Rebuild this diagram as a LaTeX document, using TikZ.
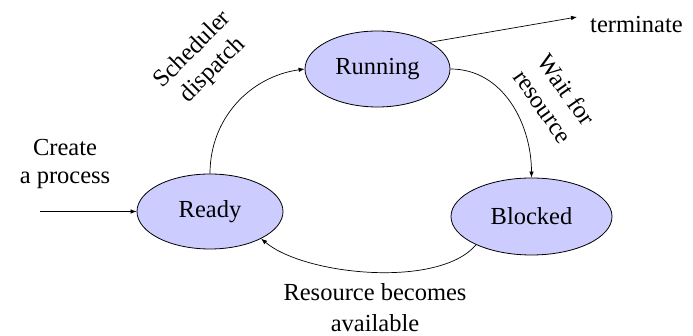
\documentclass[tikz,border=0pt]{standalone}
\usepackage{fontspec}
\setmainfont{Liberation Serif}
\usetikzlibrary{shapes.geometric,arrows.meta}
\definecolor{statefill}{HTML}{CCCCFF}
\tikzset{
  state/.style={ellipse, draw=black, line width=0.8pt, fill=statefill, inner sep=0pt},
  edge/.style={line width=0.7pt, -{Latex[length=6pt,width=4.5pt]}},
  lbl/.style={align=center, inner sep=0pt},
}
\begin{document}
\begin{tikzpicture}[x=1pt,y=1pt,font=\fontsize{24.5}{28.5}\selectfont]
\useasboundingbox (0,0) rectangle (693,336);

% process states
\node[state, minimum width=145pt, minimum height=76pt] (run) at (377.5,267) {Running};
\node[state, minimum width=146pt, minimum height=75pt] (ready) at (210,124.5) {Ready};
\node[state, minimum width=161pt, minimum height=77pt] (blk) at (531.5,119.5) {Blocked};

% free ends of the entry and exit arrows
\coordinate (cstart) at (40,124.5);
\coordinate (tend) at (577,319);
\node[lbl, anchor=west] (term) at (590,311) {terminate};

% transitions
\draw[edge] (cstart) -- (ready.west);
\draw[edge] (ready.north) to[out=90,in=188] (run.west);
\draw[edge] (run.east) to[out=0,in=90] (blk.north);
\draw[edge] (blk.207) to[out=230,in=-40,looseness=0.68] (ready.-28);
\draw[edge] (run.27) -- (tend);

% transition labels
\node[lbl] (lcreate) at (65,172) {Create\\a process};
\node[lbl, rotate=45] (lsched) at (203,276) {Scheduler\\dispatch};
\node[lbl, rotate=-55] (lwait) at (555,238) {Wait for\\resource};
\node[lbl] (lres) at (375,28) {Resource becomes\\[2.5pt]available};
\end{tikzpicture}
\end{document}
